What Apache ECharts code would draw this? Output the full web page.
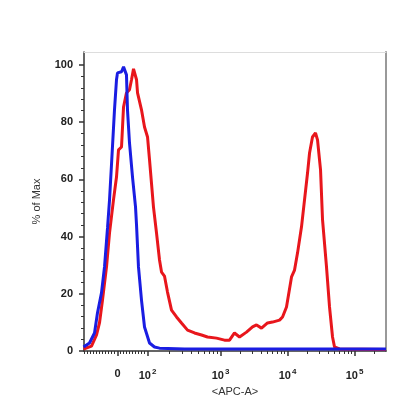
<!DOCTYPE html>
<html>
<head>
<meta charset="utf-8">
<script src="https://cdn.jsdelivr.net/npm/echarts@6/dist/echarts.min.js"></script>
<style>html,body{margin:0;padding:0;background:#fff}#c{width:420px;height:418px}</style>
</head>
<body>
<div id="c"></div>
<script>
// x values are positions on the biexponential display scale (1 unit = 1 decade)
const blueX = [-0.507,-0.418,-0.343,-0.299,-0.239,-0.194,-0.149,-0.119,-0.090,-0.045,-0.015,0.000,0.060,0.090,0.134,0.149,0.179,0.224,0.269,0.284,0.313,0.358,0.403,0.478,0.552,0.627,1.000,2.000,3.000,4.007];
const blueY = [1.4,2.8,6.3,13.3,20.3,29.4,43.0,52.8,65.0,84.3,94.8,97.2,97.6,99.3,96.5,84.3,72.7,60.8,50.3,44.0,29.4,17.8,8.4,2.8,1.4,1.0,0.7,0.7,0.7,0.7];
const redX = [-0.507,-0.388,-0.313,-0.269,-0.224,-0.164,-0.119,-0.060,-0.015,0.015,0.060,0.075,0.090,0.134,0.179,0.209,0.239,0.284,0.299,0.358,0.403,0.448,0.478,0.507,0.537,0.582,0.627,0.657,0.701,0.746,0.806,0.881,0.955,1.045,1.149,1.254,1.343,1.478,1.597,1.672,1.746,1.821,1.925,2.015,2.075,2.149,2.239,2.313,2.418,2.463,2.522,2.597,2.642,2.687,2.746,2.791,2.836,2.866,2.910,2.955,2.985,3.030,3.060,3.119,3.164,3.209,3.239,3.313,4.007];
const redY = [0.7,1.7,5.6,9.8,17.8,29.4,41.3,52.8,60.8,70.3,71.3,78.3,85.3,90.2,91.3,94.8,98.6,94.8,90.2,84.3,78.3,74.8,66.8,58.7,50.3,41.3,31.8,27.6,26.2,20.6,14.3,11.9,9.8,7.3,6.3,5.6,4.9,4.5,3.8,3.8,6.3,4.9,6.6,8.4,9.1,8.0,9.8,10.1,10.8,11.9,15.4,25.9,28.3,34.3,43.4,52.8,62.2,69.2,74.8,76.2,73.8,63.3,45.8,29.4,15.4,4.9,1.4,0.7,0.5];
const xTickPos = [0, 0.448, 1.537, 2.537, 3.537];
const xTickLabels = ['0', '10{s|2}', '10{s|3}', '10{s|4}', '10{s|5}'];
const yTicks = [0, 20, 40, 60, 80, 100];

const xMin = -0.5, xMax = 4.007, yMin = 0, yMax = 104.5;

// minor ticks on the display scale
const xMinor = [];
for (let i = 1; i <= 11; i++) xMinor.push(-i * xTickPos[1] / 10);
for (let i = 1; i <= 9; i++) xMinor.push(i * xTickPos[1] / 10);
for (let d = 2; d <= 4; d++) {
  for (let m = 2; m <= 9; m++) {
    const p = xTickPos[d] + Math.log10(m);
    if (p < xMax) xMinor.push(p);
  }
}
for (let m = 2; m <= 9; m++) { const p = xTickPos[1] + Math.log10(m) * (xTickPos[2] - xTickPos[1]); xMinor.push(p); }
const yMinor = [];
for (let v = 4; v < 104; v += 4) if (v % 20 !== 0) yMinor.push(v);

const font = 'Liberation Sans, Arial, sans-serif';
const chart = echarts.init(document.getElementById('c'), null, {renderer: 'canvas'});
chart.setOption({
  animation: false,
  backgroundColor: '#fff',
  grid: {left: 84, right: 34, top: 52, bottom: 67, containLabel: false},
  xAxis: [
    {type: 'value', position: 'bottom', min: xMin, max: xMax,
     axisLine: {show: true, onZero: false, lineStyle: {color: '#333', width: 1.5}},
     axisTick: {show: true, customValues: xTickPos, length: 5, lineStyle: {color: '#333', width: 1.5}},
     axisLabel: {customValues: xTickPos, margin: 17, color: '#222', fontFamily: font, fontSize: 11, fontWeight: 'bold',
       formatter: function (v) { let best = 0; for (let i = 0; i < xTickPos.length; i++) if (Math.abs(xTickPos[i] - v) < Math.abs(xTickPos[best] - v)) best = i; return xTickLabels[best]; },
       rich: {s: {fontSize: 8, fontWeight: 'bold', color: '#222', fontFamily: font, padding: [0, 0, 8, 1]}}},
     splitLine: {show: false},
     name: '<APC-A>', nameLocation: 'middle', nameGap: 35,
     nameTextStyle: {color: '#333', fontFamily: font, fontSize: 11}},
    {type: 'value', position: 'bottom', min: xMin, max: xMax,
     axisLine: {show: false, onZero: false},
     axisTick: {show: true, customValues: xMinor, length: 3, lineStyle: {color: '#333', width: 1}},
     axisLabel: {show: false}, splitLine: {show: false}},
    {type: 'value', position: 'top', min: xMin, max: xMax,
     axisLine: {show: true, onZero: false, lineStyle: {color: '#ddd', width: 1}},
     axisTick: {show: false}, axisLabel: {show: false}, splitLine: {show: false}}
  ],
  yAxis: [
    {type: 'value', position: 'left', min: yMin, max: yMax,
     axisLine: {show: true, onZero: false, lineStyle: {color: '#333', width: 1.5}},
     axisTick: {show: true, customValues: yTicks, length: 5, lineStyle: {color: '#333', width: 1.5}},
     axisLabel: {customValues: yTicks, margin: 11, color: '#222', fontFamily: font, fontSize: 11, fontWeight: 'bold'},
     splitLine: {show: false},
     name: '% of Max', nameLocation: 'middle', nameGap: 42, nameRotate: 90,
     nameTextStyle: {color: '#333', fontFamily: font, fontSize: 11}},
    {type: 'value', position: 'left', min: yMin, max: yMax,
     axisLine: {show: false, onZero: false},
     axisTick: {show: true, customValues: yMinor, length: 3, lineStyle: {color: '#333', width: 1}},
     axisLabel: {show: false}, splitLine: {show: false}},
    {type: 'value', position: 'right', min: yMin, max: yMax,
     axisLine: {show: true, onZero: false, lineStyle: {color: '#999', width: 2}},
     axisTick: {show: false}, axisLabel: {show: false}, splitLine: {show: false}}
  ],
  series: [
    {type: 'line', xAxisIndex: 0, yAxisIndex: 0, showSymbol: false, smooth: false,
     data: redX.map((x, i) => [x, redY[i]]),
     lineStyle: {color: '#e8161c', width: 3}, itemStyle: {color: '#e8161c'}},
    {type: 'line', xAxisIndex: 0, yAxisIndex: 0, showSymbol: false, smooth: false,
     data: blueX.map((x, i) => [x, blueY[i]]),
     lineStyle: {color: '#1a1de2', width: 3}, itemStyle: {color: '#1a1de2'}}
  ]
});
</script>
</body>
</html>
